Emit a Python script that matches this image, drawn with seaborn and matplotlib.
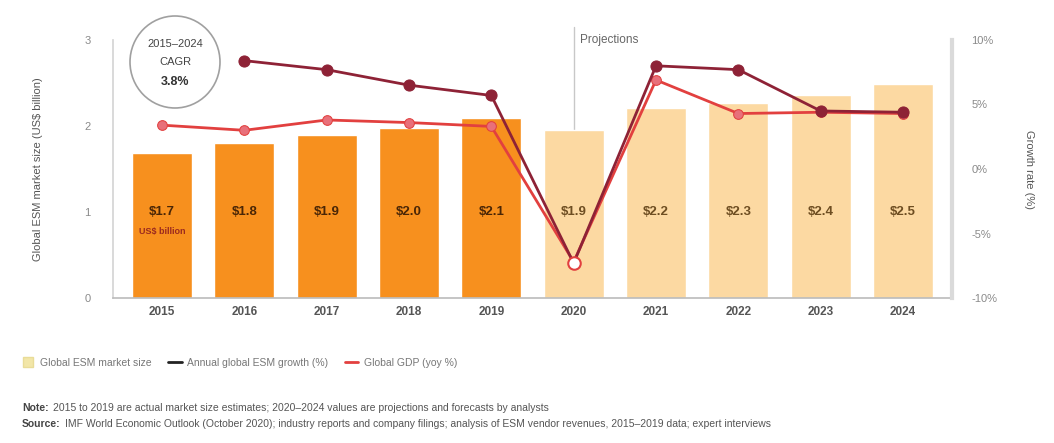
import numpy as np
import pandas as pd
import matplotlib
matplotlib.use("Agg")
import matplotlib.pyplot as plt
import seaborn as sns
from matplotlib.patches import Ellipse
from matplotlib.lines import Line2D

# Data
years = ["2015", "2016", "2017", "2018", "2019", "2020", "2021", "2022", "2023", "2024"]
market_size = [1.69, 1.80, 1.90, 1.98, 2.09, 1.95, 2.21, 2.27, 2.36, 2.49]   # US$ billion
period = ["Actual"] * 5 + ["Projected"] * 5
esm_growth = [np.nan, 8.4, 7.7, 6.5, 5.7, -7.3, 8.0, 7.7, 4.5, 4.4]       # %
gdp_growth = [3.4, 3.0, 3.8, 3.6, 3.3, -7.2, 6.9, 4.3, 4.4, 4.3]          # %
left_ticks = [0, 1, 2, 3]
right_ticks = [-10, -5, 0, 5, 10]
right_tick_labels = ["-10%", "-5%", "0%", "5%", "10%"]

ORANGE = "#F7901E"
PEACH = "#FCD9A2"
DARK_RED = "#8E2236"
RED = "#E2403F"
GREY = "#8A8A8A"

sns.set_theme(style="white")
plt.rcParams["font.family"] = ["Liberation Sans", "DejaVu Sans"]

W, H = 1054, 443
fig = plt.figure(figsize=(W / 100, H / 100), dpi=100)
ax = fig.add_axes([113 / W, 1 - 298 / H, (952 - 113) / W, (298 - 40) / H])

df = pd.DataFrame({"year": years, "size": market_size, "period": period})
sns.barplot(data=df, x="year", y="size", hue="period",
            palette={"Actual": ORANGE, "Projected": PEACH},
            dodge=False, width=0.73, saturation=1, legend=False, ax=ax)
ax.set_xlim(-0.595, 9.595)
ax.set_ylim(0, 3)
ax.set_yticks(left_ticks)
ax.set_yticklabels([str(t) for t in left_ticks])
ax.set_xlabel("")
ax.set_ylabel("Global ESM market size (US$ billion)", fontsize=8, color="#555555", labelpad=30)
ax.tick_params(axis="y", length=0, pad=16, labelsize=8, labelcolor=GREY)
ax.tick_params(axis="x", length=0, pad=6, labelsize=8.5, labelcolor="#555555")
for lbl in ax.get_xticklabels():
    lbl.set_fontweight("bold")
for side in ["top", "right"]:
    ax.spines[side].set_visible(False)
ax.spines["left"].set_color("#D5D5D5")
ax.spines["bottom"].set_color("#BBBBBB")
ax.spines["bottom"].set_linewidth(1.2)

# Value labels inside the bars
for i, (v, p) in enumerate(zip(market_size, period)):
    col = "#4A2606" if p == "Actual" else "#6E4E22"
    ax.text(i, 1.0, f"${v:.1f}", ha="center", va="center", fontsize=9.5,
            fontweight="bold", color=col)
ax.text(0, 0.77, "US$ billion", ha="center", va="center", fontsize=6.5,
        fontweight="bold", color="#9B2A1E")

# Growth lines on the secondary axis
ax2 = ax.twinx()
x = np.arange(len(years))
sns.lineplot(x=x, y=gdp_growth, ax=ax2, color=RED, linewidth=2,
             marker="o", markersize=7, markerfacecolor="#E8707A",
             markeredgecolor=RED, legend=False)
sns.lineplot(x=x, y=esm_growth, ax=ax2, color=DARK_RED, linewidth=2,
             marker="o", markersize=8, markerfacecolor=DARK_RED,
             markeredgecolor=DARK_RED, legend=False)
ax2.plot(x[5], esm_growth[5], marker="o", markersize=9,
         markerfacecolor="white", markeredgecolor=RED, markeredgewidth=1.5)
ax2.set_ylim(-10, 10)
ax2.set_yticks(right_ticks)
ax2.set_yticklabels(right_tick_labels)
ax2.set_ylabel("Growth rate (%)", fontsize=8, color="#555555", rotation=270,
               labelpad=26)
ax2.tick_params(axis="y", length=0, pad=14, labelsize=8, labelcolor=GREY)
for side in ["top", "left", "bottom"]:
    ax2.spines[side].set_visible(False)
ax2.spines["right"].set_color("#DADADA")
ax2.spines["right"].set_linewidth(3)
ax2.set_xlim(-0.595, 9.595)

# Projection marker
ax.plot([5, 5], [market_size[5], 3.15], color="#C8C8C8", linewidth=1,
        clip_on=False, zorder=0.5)
ax.text(5.08, 3.0, "Projections", fontsize=8.5, color="#666666",
        ha="left", va="center")

# CAGR bubble
fig.add_artist(Ellipse((175 / W, 1 - 62 / H), 90 / W, 92 / H,
                       transform=fig.transFigure, facecolor="white",
                       edgecolor="#A0A0A0", linewidth=1.2))
fig.text(175 / W, 1 - 44 / H, "2015–2024", ha="center", va="center",
         fontsize=8, color="#444444")
fig.text(175 / W, 1 - 62 / H, "CAGR", ha="center", va="center",
         fontsize=8, color="#444444")
fig.text(175 / W, 1 - 82 / H, "3.8%", ha="center", va="center",
         fontsize=9, fontweight="bold", color="#333333")

# Legend
handles = [
    Line2D([], [], marker="s", linestyle="none", markersize=7,
           markerfacecolor="#F2E6A8", markeredgecolor="#E9DC98"),
    Line2D([], [], color="#222222", linewidth=2),
    Line2D([], [], color=RED, linewidth=2),
]
labels = ["Global ESM market size", "Annual global ESM growth (%)",
          "Global GDP (yoy %)"]
fig.legend(handles, labels, loc="center left", bbox_to_anchor=(12 / W, 1 - 363 / H),
           ncol=3, frameon=False, fontsize=7.5, handlelength=1.3,
           handletextpad=0.5, columnspacing=1.6, labelcolor="#777777")

# Notes: bold lead-in followed by regular text
renderer = fig.canvas.get_renderer()
notes = [
    (408, "Note:", "2015 to 2019 are actual market size estimates; 2020–2024 values are projections and forecasts by analysts"),
    (424, "Source:", "IMF World Economic Outlook (October 2020); industry reports and company filings; analysis of ESM vendor revenues, 2015–2019 data; expert interviews"),
]
for ypx, head, body in notes:
    t = fig.text(22 / W, 1 - ypx / H, head, fontsize=7.5, fontweight="bold",
                 color="#444444", va="center")
    bb = t.get_window_extent(renderer=renderer)
    fig.text((bb.x1 + 4) / W, 1 - ypx / H, body, fontsize=7.5,
             color="#555555", va="center")

fig.savefig("out.png", dpi=100)
